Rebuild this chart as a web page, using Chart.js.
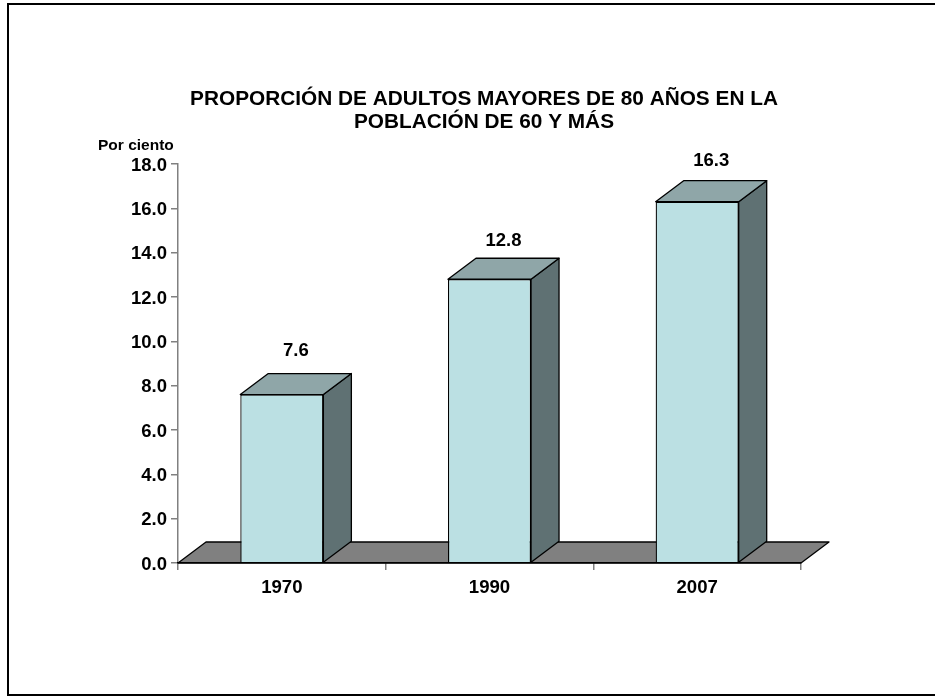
<!DOCTYPE html>
<html><head><meta charset="utf-8">
<style>html,body{margin:0;padding:0;background:#fff;overflow:hidden}
#wrap{position:absolute;left:0;top:0;width:935px;height:696px}
canvas{position:absolute;left:0;top:0}</style>
<script src="https://cdn.jsdelivr.net/npm/chart.js@4"></script>
</head><body><div id="wrap"><canvas id="c" width="935" height="696"></canvas></div>
<script>
const categories = ['1970','1990','2007'];
const values = [7.6,12.8,16.3];
const labelGaps = [44,38,41];
const yTicks = [0,2,4,6,8,10,12,14,16,18];
const titleLines = ['PROPORCIÓN DE ADULTOS MAYORES DE 80 AÑOS EN LA','POBLACIÓN DE 60 Y MÁS'];
const yAxisLabel = 'Por ciento';
const FONT = '"Liberation Sans", Arial, sans-serif';
const DX = 28, DY = 21;
function poly(ctx, pts, fill){
  ctx.beginPath(); pts.forEach((p,i)=>i?ctx.lineTo(p[0],p[1]):ctx.moveTo(p[0],p[1])); ctx.closePath();
  ctx.fillStyle=fill; ctx.fill(); ctx.lineWidth=1.3; ctx.strokeStyle='#000'; ctx.lineJoin='round'; ctx.stroke();
}
const depth3d = {
  id:'depth3d',
  beforeDraw(chart){
    const ctx=chart.ctx;
    ctx.save();
    ctx.strokeStyle='#000'; ctx.lineWidth=2;
    ctx.beginPath(); ctx.moveTo(935,4); ctx.lineTo(8,4); ctx.lineTo(8,695); ctx.lineTo(935,695); ctx.stroke();
    ctx.restore();
  },
  beforeDatasetsDraw(chart){
    const ctx=chart.ctx, a=chart.chartArea, y0=chart.scales.y.getPixelForValue(0);
    ctx.save();
    poly(ctx,[[a.left,y0],[a.left+DX,y0-DY],[a.right+DX,y0-DY],[a.right,y0]],'#808080');
    chart.getDatasetMeta(0).data.forEach(b=>{
      const l=b.x-b.width/2,r=b.x+b.width/2;
      poly(ctx,[[r,b.y],[r+DX,b.y-DY],[r+DX,b.base-DY],[r,b.base]],'#5f7173');
      poly(ctx,[[l,b.y],[l+DX,b.y-DY],[r+DX,b.y-DY],[r,b.y]],'#8fa6a8');
    });
    ctx.restore();
  },
  afterDatasetsDraw(chart){
    const ctx=chart.ctx, ys=chart.scales.y;
    ctx.save();
    ctx.fillStyle='#000'; ctx.textAlign='center'; ctx.textBaseline='middle';
    ctx.font='bold 18.5px '+FONT;
    chart.getDatasetMeta(0).data.forEach((b,i)=>{
      ctx.fillText(values[i].toFixed(1), b.x+14, b.y-labelGaps[i]);
    });
    ctx.textAlign='right';
    yTicks.forEach(v=>ctx.fillText(v.toFixed(1), ys.left+ys.width-11, ys.getPixelForValue(v)+1.5));
    ctx.textAlign='center';
    ctx.font='bold 20.8px '+FONT;
    titleLines.forEach((t,i)=>ctx.fillText(t,484,99+i*23));
    ctx.font='bold 15.5px '+FONT; ctx.textAlign='left';
    ctx.fillText(yAxisLabel, 98, 146);
    ctx.restore();
  }
};
new Chart(document.getElementById('c'),{
  type:'bar',
  data:{labels:categories,datasets:[{data:values,backgroundColor:'#bbe0e3',borderColor:'#000',borderWidth:1.3,barPercentage:0.4,categoryPercentage:1}]},
  plugins:[depth3d],
  options:{
    responsive:false,animation:false,
    layout:{padding:{left:118,right:134,top:164,bottom:0}},
    plugins:{legend:{display:false},tooltip:{enabled:false},title:{display:false}},
    scales:{
      x:{grid:{drawOnChartArea:false,drawTicks:true,tickLength:7,color:'#808080',lineWidth:1.5},border:{color:'#000',width:1.3,z:1},
        afterFit(s){s.height=133;},
        ticks:{color:'#000',font:{family:FONT,size:18.6,weight:'bold'},padding:7,maxRotation:0}},
      y:{min:0,max:18,grid:{drawOnChartArea:false,tickLength:7,color:'#808080',lineWidth:1.5},border:{color:'#808080',width:1.5},
        afterBuildTicks(s){s.ticks=yTicks.map(v=>({value:v}));},
        afterFit(s){s.width=60;},
        ticks:{display:false}}
    }
  }
});
</script>
</body></html>
